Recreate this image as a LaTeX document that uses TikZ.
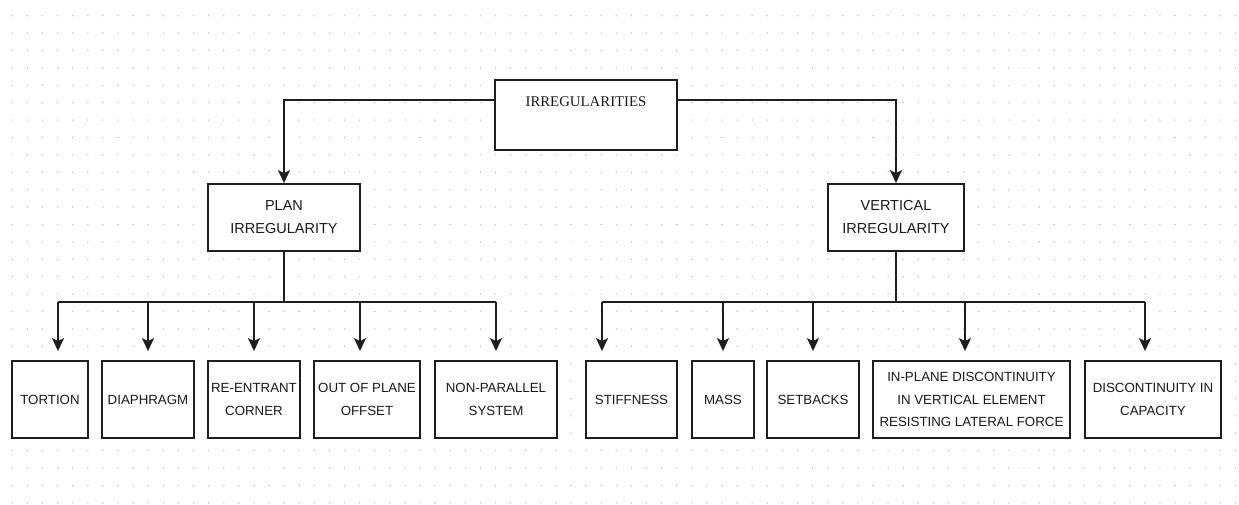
\documentclass[tikz,border=0pt]{standalone}
\usepackage{fontspec}
\setmainfont{Liberation Serif}
\setsansfont{Liberation Sans}
\usetikzlibrary{arrows.meta}
\definecolor{gridgray}{HTML}{BEBEBE}
\definecolor{edgegray}{HTML}{1E1E1E}
\tikzset{
  box/.style={draw=edgegray,line width=1.8bp,fill=white,inner sep=2bp,align=center,text=black!90},
  topbox/.style={box,minimum width=182bp,minimum height=70bp,font=\fontsize{14.8bp}{17bp}\selectfont,text height=10bp,text depth=26.4bp},
  midbox/.style={box,minimum height=67bp,font=\sffamily\fontsize{14.5bp}{23bp}\selectfont},
  leaf/.style={box,minimum height=77bp,font=\sffamily\fontsize{13.3bp}{22.5bp}\selectfont},
  link/.style={draw=edgegray,line width=1.8bp},
  arrow/.style={link,-{Stealth[length=13bp,width=12bp,inset=3bp]}}
}

\begin{document}
\begin{tikzpicture}[x=1bp,y=-1bp]
    \useasboundingbox (0,0) rectangle (1239,505);
    \foreach \i in {0,...,81} {\foreach \j in {0,...,28} {\fill[gridgray] (12.3+15.1*\i,15.7+17.4*\j) circle (0.8bp);}}
    \node[topbox] (root) at (586,115) {IRREGULARITIES};
    \node[midbox,minimum width=152bp] (plan) at (284,217.5) {PLAN\\IRREGULARITY};
    \node[midbox,minimum width=136bp] (vert) at (896,217.5) {VERTICAL\\IRREGULARITY};
    \draw[arrow] ([yshift=15bp]root.west) -| (plan.north);
    \draw[arrow] ([yshift=15bp]root.east) -| (vert.north);
    \coordinate (pbus) at (284,302);
    \coordinate (vbus) at (896,302);
    \draw[link] (plan.south) -- (pbus);
    \draw[link] (vert.south) -- (vbus);
    \foreach \nm/\cx/\w/\txt in {tortion/50/76/TORTION, diaphragm/148/92/DIAPHRAGM,
        reentrant/254/92/{RE-ENTRANT\\CORNER}, offset/367/106/{OUT OF PLANE\\OFFSET},
        nonpar/496/122/{NON-PARALLEL\\SYSTEM}, stiffness/631.5/91/STIFFNESS,
        mass/723/62/MASS, setbacks/813/92/SETBACKS,
        inplane/971.5/197/{IN-PLANE DISCONTINUITY\\IN VERTICAL ELEMENT\\RESISTING LATERAL FORCE},
        capacity/1153/136/{DISCONTINUITY IN\\CAPACITY}}
        {\node[leaf,minimum width=\w bp] (\nm) at (\cx,399.5) {\txt};}
    \draw[link] ([xshift=8bp]tortion.north |- pbus) -- (nonpar.north |- pbus);
    \draw[link] ([xshift=-29.5bp]stiffness.north |- vbus) -- ([xshift=-8bp]capacity.north |- vbus);
    \foreach \nm/\dx in {tortion/8, diaphragm/0, reentrant/0, offset/-7, nonpar/0}
        {\draw[arrow,shorten >=9bp] ([xshift=\dx bp]\nm.north |- pbus) -- ([xshift=\dx bp]\nm.north);}
    \foreach \nm/\dx in {stiffness/-29.5, mass/0, setbacks/0, inplane/-6.5, capacity/-8}
        {\draw[arrow,shorten >=9bp] ([xshift=\dx bp]\nm.north |- vbus) -- ([xshift=\dx bp]\nm.north);}
\end{tikzpicture}
\end{document}
